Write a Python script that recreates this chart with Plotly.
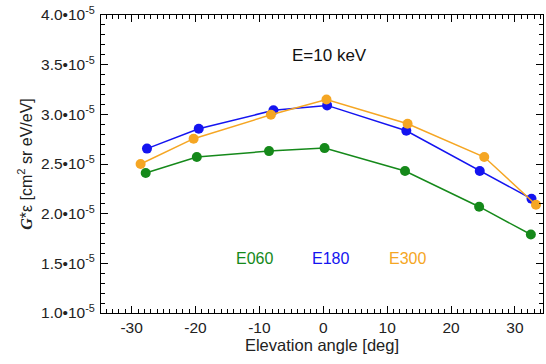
import plotly.graph_objects as go

# Data (elevation angle in deg, G*eps in cm^2 sr eV/eV)
elev_e060 = [-27.8, -19.8, -8.5, 0.2, 12.8, 24.4, 32.5]
geff_e060 = [2.41e-5, 2.57e-5, 2.63e-5, 2.66e-5, 2.43e-5, 2.07e-5, 1.79e-5]

elev_e180 = [-27.6, -19.5, -7.8, 0.6, 13.0, 24.5, 32.6]
geff_e180 = [2.655e-5, 2.855e-5, 3.04e-5, 3.09e-5, 2.835e-5, 2.43e-5, 2.15e-5]

elev_e300 = [-28.6, -20.3, -8.2, 0.5, 13.2, 25.2, 33.3]
geff_e300 = [2.50e-5, 2.755e-5, 2.995e-5, 3.15e-5, 2.905e-5, 2.57e-5, 2.09e-5]

series_names = ["E060", "E180", "E300"]
x_ticks = [-30, -20, -10, 0, 10, 20, 30]
x_ticktext = ["-30", "-20", "-10", "0", "10", "20", "30"]
y_tickvals = [1.0e-5, 1.5e-5, 2.0e-5, 2.5e-5, 3.0e-5, 3.5e-5, 4.0e-5]
y_ticktext = ["1.0•10<sup>-5</sup>", "1.5•10<sup>-5</sup>", "2.0•10<sup>-5</sup>",
              "2.5•10<sup>-5</sup>", "3.0•10<sup>-5</sup>", "3.5•10<sup>-5</sup>",
              "4.0•10<sup>-5</sup>"]

colors = ["#15891a", "#1414f0", "#f5a623"]
FONT = "Liberation Sans, Arial, sans-serif"

W, H = 546, 364
L, R, T, B = 101, 3, 15, 51

def px_to_paper(px, py):
    return (px - L) / (W - L - R), 1 - (py - T) / (H - T - B)

fig = go.Figure()
for name, xs, ys, c in zip(series_names,
                           [elev_e060, elev_e180, elev_e300],
                           [geff_e060, geff_e180, geff_e300], colors):
    fig.add_trace(go.Scatter(x=xs, y=ys, mode="lines+markers", name=name,
                             line=dict(color=c, width=1.5),
                             marker=dict(color=c, size=10),
                             showlegend=False))

ax, ay = px_to_paper(329, 55)
fig.add_annotation(x=ax, y=ay, xref="paper", yref="paper", text="E=10 keV",
                   xanchor="center", yanchor="middle",
                   showarrow=False, font=dict(size=17, color="#111", family=FONT))
label_x = [254, 330, 407]
for name, lx, c in zip(series_names, label_x, colors):
    ax, ay = px_to_paper(lx, 258)
    fig.add_annotation(x=ax, y=ay, xref="paper", yref="paper", text=name,
                       xanchor="center", yanchor="middle", showarrow=False,
                       font=dict(size=16, color=c, family=FONT))

axis_common = dict(showline=True, linecolor="black", linewidth=1, mirror="allticks",
                   ticks="inside", tickcolor="black", ticklen=7, tickwidth=1,
                   showgrid=False, zeroline=False,
                   tickfont=dict(size=15.5, color="#222", family=FONT))

fig.update_xaxes(range=[-34.8, 34.4], tickvals=x_ticks, ticktext=x_ticktext,
                 minor=dict(dtick=1, ticks="inside", ticklen=4, tickcolor="black", showgrid=False),
                 title=dict(text="Elevation angle [deg]", font=dict(size=16.5, color="#222", family=FONT),
                            standoff=1),
                 **axis_common)
fig.update_yaxes(range=[1.0e-5, 4.0e-5], tickvals=y_tickvals, ticktext=y_ticktext,
                 minor=dict(dtick=0.1e-5, tick0=0, ticks="inside", ticklen=4, tickcolor="black", showgrid=False),
                 ticklabelstandoff=2,
                 title=dict(text="<span style=\"font-family:'Liberation Serif'\"><b><i>G</i></b></span>*ε [cm<sup>2</sup> sr eV/eV]",
                            font=dict(size=16, color="#222", family=FONT), standoff=4),
                 **axis_common)

fig.update_layout(width=W, height=H, margin=dict(l=L, r=R, t=T, b=B, autoexpand=False),
                  plot_bgcolor="white", paper_bgcolor="white",
                  font=dict(family=FONT))

fig.write_html("out.html", config={"displayModeBar": False},
               post_script="document.body.style.margin='0';document.body.style.overflow='hidden';")
